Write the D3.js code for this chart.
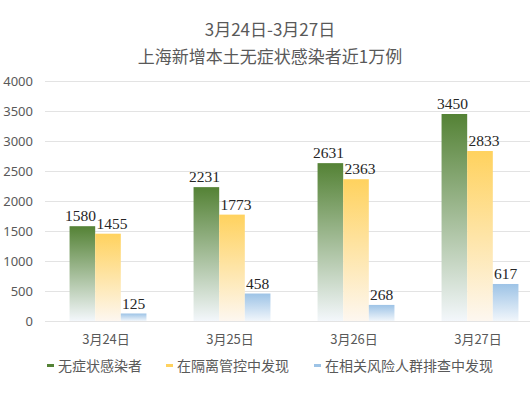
<!DOCTYPE html>
<html>
<head>
<meta charset="utf-8">
<script src="https://cdn.jsdelivr.net/npm/d3@7"></script>
<style>
  body { margin: 0; background: #fff; }
  svg { display: block; font-family: "Noto Sans CJK SC", "Noto Sans", sans-serif; }
</style>
</head>
<body>
<div id="chart"></div>
<script>
// chart data
const categories = ["3月24日", "3月25日", "3月26日", "3月27日"];
const seriesNames = ["无症状感染者", "在隔离管控中发现", "在相关风险人群排查中发现"];
const asymptomatic = [1580, 2231, 2631, 3450];
const inQuarantine = [1455, 1773, 2363, 2833];
const inScreening = [125, 458, 268, 617];
const yTicks = [0, 500, 1000, 1500, 2000, 2500, 3000, 3500, 4000];

const seriesValues = [asymptomatic, inQuarantine, inScreening];
const topColors = ["#548235", "#ffd25e", "#9dc3e6"];
const bottomColors = ["#f3f7fb", "#fdf7f0", "#f1f6fb"];
const labelShift = [-2, 4, 0]; // labels of the middle series sit a bit to the right

const width = 530, height = 400;
const svg = d3.select("#chart").append("svg")
  .attr("width", width)
  .attr("height", height);

// gradients, one per series, running top to bottom on each bar
const defs = svg.append("defs");
topColors.forEach((c, i) => {
  const g = defs.append("linearGradient")
    .attr("id", "grad" + i)
    .attr("x1", 0).attr("y1", 0).attr("x2", 0).attr("y2", 1);
  g.append("stop").attr("offset", "0%").attr("stop-color", c);
  g.append("stop").attr("offset", "100%").attr("stop-color", bottomColors[i]);
});

const x = d3.scaleBand()
  .domain(categories)
  .range([46, 542])
  .paddingInner(0.38)
  .paddingOuter(0.19);

const x1 = d3.scaleBand()
  .domain(d3.range(seriesNames.length))
  .range([0, x.bandwidth()]);

const y = d3.scaleLinear()
  .domain([0, 4000])
  .range([321, 81]);

// title
const title = svg.append("g").attr("fill", "#595959").attr("text-anchor", "middle");
title.append("text").attr("x", 270).attr("y", 36).attr("font-size", 17).text("3月24日-3月27日");
title.append("text").attr("x", 270).attr("y", 63).attr("font-size", 17).text("上海新增本土无症状感染者近1万例");

// y axis with gridlines
const yAxis = svg.append("g")
  .attr("transform", "translate(45,0)")
  .call(d3.axisLeft(y).tickValues(yTicks).tickSize(-485).tickPadding(12).tickFormat(d3.format("d")));
yAxis.select(".domain").remove();
yAxis.selectAll(".tick line").attr("stroke", "#e3e3e3");
yAxis.selectAll(".tick text").attr("fill", "#595959").attr("font-size", 13)
  .attr("font-family", "'Noto Sans', sans-serif");

// x axis labels
const xAxis = svg.append("g")
  .attr("transform", "translate(0,321)")
  .call(d3.axisBottom(x).tickSize(0).tickPadding(14));
xAxis.select(".domain").remove();
xAxis.selectAll(".tick text").attr("fill", "#595959").attr("font-size", 13)
  .attr("font-family", "'Noto Sans CJK SC', sans-serif")
  .attr("dx", -2);

// bars
const groups = svg.append("g").selectAll("g")
  .data(categories)
  .join("g")
  .attr("transform", d => `translate(${x(d)},0)`);

groups.selectAll("rect")
  .data((d, ci) => seriesValues.map((s, si) => ({ si, v: s[ci] })))
  .join("rect")
  .attr("x", d => x1(d.si))
  .attr("y", d => y(d.v))
  .attr("width", x1.bandwidth())
  .attr("height", d => y(0) - y(d.v))
  .attr("fill", d => `url(#grad${d.si})`);

groups.selectAll("text")
  .data((d, ci) => seriesValues.map((s, si) => ({ si, v: s[ci] })))
  .join("text")
  .attr("x", d => x1(d.si) + x1.bandwidth() / 2 + labelShift[d.si])
  .attr("y", d => y(d.v) - 5)
  .attr("text-anchor", "middle")
  .attr("font-family", "'Liberation Serif', 'DejaVu Serif', serif")
  .attr("font-size", 15.5)
  .attr("fill", "#262626")
  .text(d => d.v);

// legend
const legendX = [47, 166, 314];
const legend = svg.append("g").selectAll("g")
  .data(seriesNames)
  .join("g")
  .attr("transform", (d, i) => `translate(${legendX[i]},366)`);
legend.append("rect")
  .attr("x", 0).attr("y", -2).attr("width", 7).attr("height", 3)
  .attr("fill", (d, i) => topColors[i]);
legend.append("text")
  .attr("x", 11).attr("y", 5)
  .attr("font-size", 14)
  .attr("fill", "#595959")
  .text(d => d);
</script>
</body>
</html>
